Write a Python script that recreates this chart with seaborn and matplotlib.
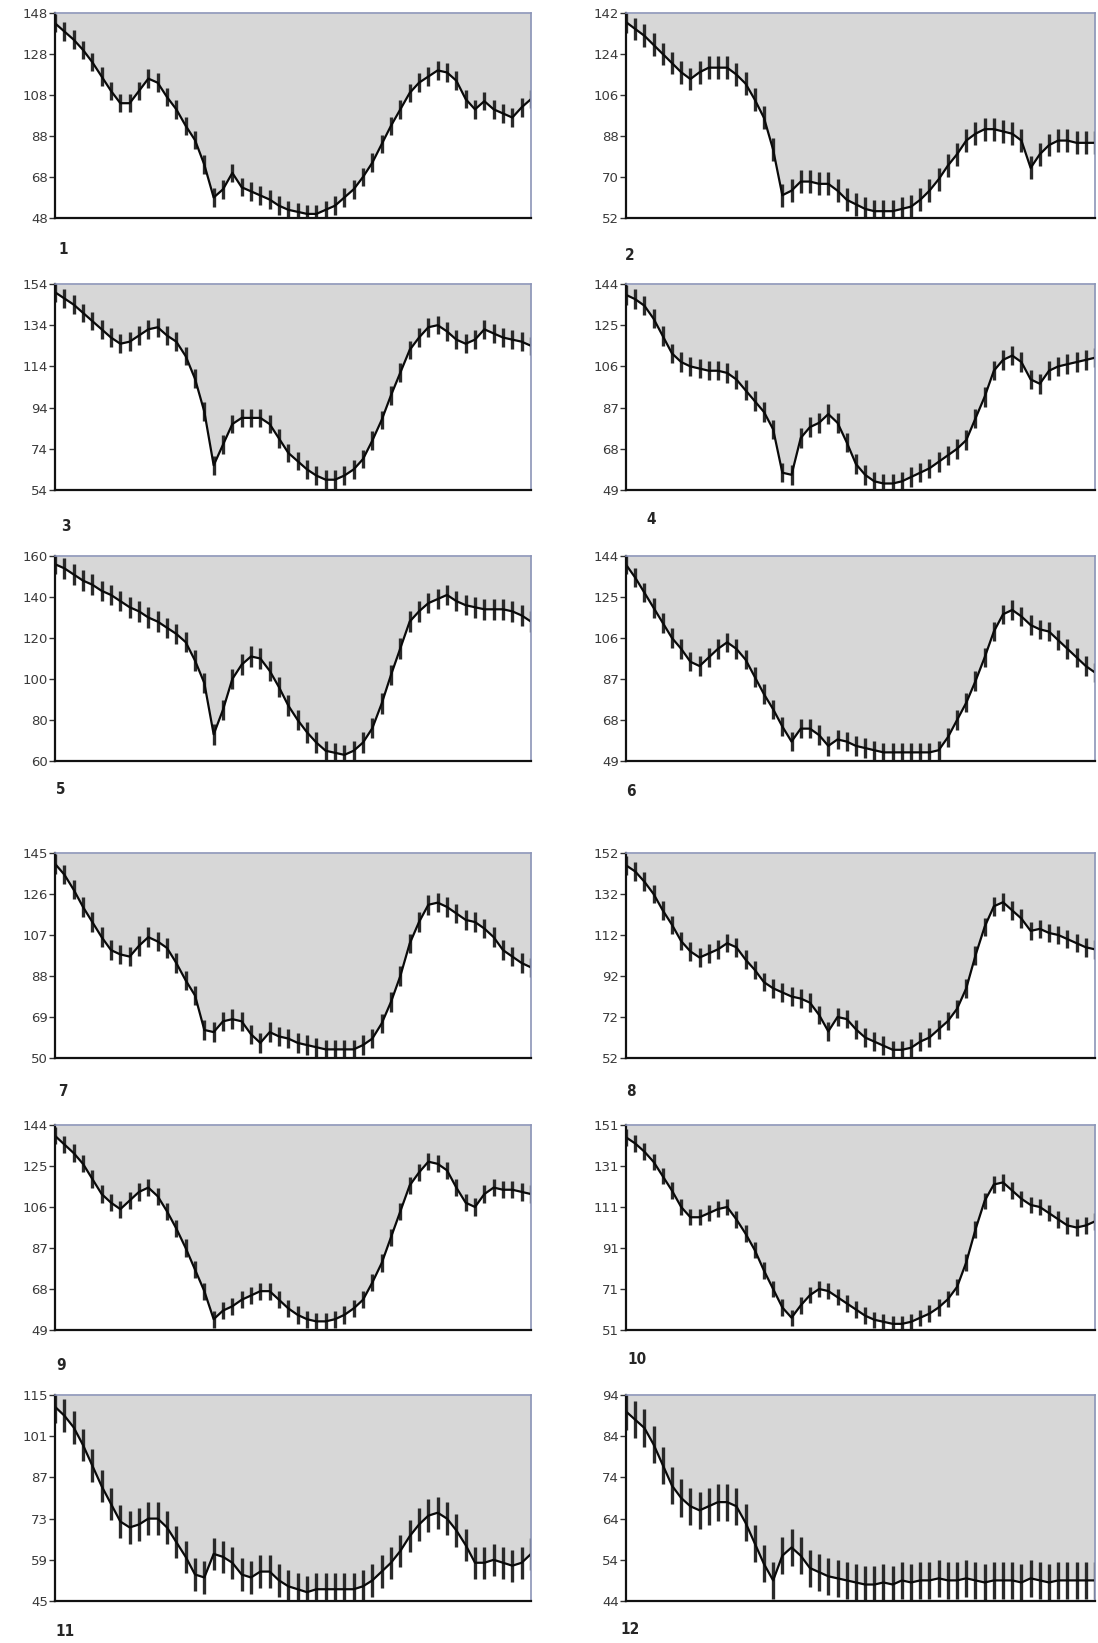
import matplotlib
matplotlib.use("Agg")
import numpy as np
import pandas as pd
import matplotlib.pyplot as plt
import seaborn as sns

# trend values (52 samples per panel, left to right)
panel_1 = [143, 139, 135, 130, 124, 117, 110, 104, 104, 110, 116, 114, 107, 101, 93, 86, 74, 58, 62, 70,
           63, 61, 59, 57, 54, 52, 51, 50, 50, 52, 54, 58, 62, 68, 75, 84, 93, 101, 109, 114,
           117, 120, 119, 115, 106, 101, 105, 101, 99, 97, 102, 106]
panel_2 = [138, 135, 132, 128, 124, 120, 116, 113, 116, 118, 118, 118, 115, 111, 104, 96, 82, 62, 64, 68,
           68, 67, 67, 64, 60, 58, 56, 55, 55, 55, 56, 57, 60, 64, 69, 75, 80, 86, 89, 91,
           91, 90, 89, 86, 74, 80, 84, 86, 86, 85, 85, 85]
panel_3 = [150, 147, 144, 140, 136, 132, 128, 125, 126, 129, 132, 133, 129, 126, 119, 108, 92, 66, 76, 86,
           89, 89, 89, 86, 79, 72, 68, 64, 61, 59, 59, 61, 64, 69, 78, 88, 100, 111, 122, 128,
           133, 134, 131, 127, 125, 127, 132, 130, 128, 127, 126, 124]
panel_4 = [139, 137, 134, 128, 120, 112, 108, 106, 105, 104, 104, 103, 100, 95, 90, 85, 77, 57, 56, 73,
           78, 80, 84, 80, 71, 61, 56, 53, 52, 52, 53, 55, 57, 59, 62, 65, 68, 72, 82, 92,
           104, 109, 111, 108, 100, 98, 104, 106, 107, 108, 109, 110]
panel_5 = [156, 154, 151, 148, 146, 143, 141, 138, 135, 133, 130, 128, 125, 122, 118, 109, 98, 73, 85, 100,
           107, 111, 110, 104, 96, 87, 80, 74, 69, 65, 64, 63, 65, 69, 76, 88, 102, 115, 128, 133,
           137, 139, 141, 138, 136, 135, 134, 134, 134, 133, 131, 128]
panel_6 = [140, 134, 127, 120, 113, 106, 101, 95, 93, 97, 101, 104, 101, 96, 88, 80, 73, 65, 58, 64,
           64, 61, 56, 59, 58, 56, 55, 54, 53, 53, 53, 53, 53, 53, 54, 60, 68, 76, 86, 97,
           109, 117, 119, 116, 112, 110, 109, 105, 101, 97, 93, 90]
panel_7 = [140, 135, 128, 120, 113, 106, 100, 98, 97, 102, 106, 104, 101, 94, 86, 79, 63, 62, 67, 68,
           67, 61, 57, 62, 60, 59, 57, 56, 55, 54, 54, 54, 54, 56, 59, 66, 76, 88, 103, 113,
           121, 122, 120, 117, 114, 113, 110, 106, 100, 97, 94, 92]
panel_8 = [146, 143, 138, 132, 124, 117, 109, 104, 101, 103, 105, 108, 106, 100, 95, 89, 86, 84, 82, 81,
           79, 73, 65, 72, 71, 66, 62, 60, 58, 56, 56, 57, 60, 62, 66, 70, 76, 86, 102, 116,
           126, 128, 124, 120, 114, 115, 113, 112, 110, 108, 106, 105]
panel_9 = [139, 135, 131, 126, 119, 112, 108, 105, 109, 113, 115, 111, 104, 96, 87, 77, 67, 54, 58, 60,
           63, 65, 67, 67, 63, 59, 56, 54, 53, 53, 54, 56, 59, 63, 71, 80, 92, 104, 116, 122,
           127, 126, 123, 115, 108, 106, 112, 115, 114, 114, 113, 112]
panel_10 = [145, 142, 138, 133, 126, 119, 111, 106, 106, 108, 110, 111, 105, 98, 90, 80, 71, 62, 57, 63,
            68, 71, 70, 67, 64, 61, 58, 56, 55, 54, 54, 55, 57, 59, 62, 66, 72, 84, 100, 114,
            122, 123, 119, 115, 112, 111, 108, 105, 102, 101, 102, 104]
panel_11 = [111, 108, 104, 98, 91, 84, 78, 72, 70, 71, 73, 73, 70, 65, 60, 54, 53, 61, 60, 58,
            54, 53, 55, 55, 52, 50, 49, 48, 49, 49, 49, 49, 49, 50, 52, 55, 58, 62, 67, 71,
            74, 75, 73, 69, 64, 58, 58, 59, 58, 57, 58, 61]
panel_12 = [90, 88, 86, 82, 77, 72, 69, 67, 66, 67, 68, 68, 67, 63, 58, 53, 49, 55, 57, 55,
            52, 51, 50, 49.5, 49, 48.5, 48, 48, 48.5, 48, 49, 48.5, 49, 49, 49.5, 49, 49, 49.5, 49, 48.5,
            49, 49, 49, 48.5, 49.5, 49, 48.5, 49, 49, 49, 49, 49]

series = [panel_1, panel_2, panel_3, panel_4, panel_5, panel_6,
          panel_7, panel_8, panel_9, panel_10, panel_11, panel_12]

# y tick labels of each panel (first = axis minimum, last = axis maximum)
ticks = [
    [48, 68, 88, 108, 128, 148],
    [52, 70, 88, 106, 124, 142],
    [54, 74, 94, 114, 134, 154],
    [49, 68, 87, 106, 125, 144],
    [60, 80, 100, 120, 140, 160],
    [49, 68, 87, 106, 125, 144],
    [50, 69, 88, 107, 126, 145],
    [52, 72, 92, 112, 132, 152],
    [49, 68, 87, 106, 125, 144],
    [51, 71, 91, 111, 131, 151],
    [45, 59, 73, 87, 101, 115],
    [44, 54, 64, 74, 84, 94],
]

# half height of the short-period swings around the trend
spread = [4.5, 5, 4.5, 4.5, 5, 4.5, 4.5, 4.5, 4, 4, 5.5, 4.5]

panel_names = [str(i) for i in range(1, 13)]

W, H = 1098, 1643
fig = plt.figure(figsize=(W / 100, H / 100), dpi=100)
sns.set_style("white")

col_x = [(55, 531), (626, 1095)]
row_y = [(13, 218), (284, 490), (556, 761), (853, 1058), (1125, 1330), (1395, 1601)]
label_pos = [(63, 250), (630, 255), (66, 527), (651, 520), (61, 790), (631, 792),
             (63, 1092), (631, 1092), (61, 1365), (637, 1360), (65, 1632), (630, 1630)]

for k, vals in enumerate(series):
    r, c = divmod(k, 2)
    x0, x1 = col_x[c]
    y0, y1 = row_y[r]
    ax = fig.add_axes([x0 / W, 1 - y1 / H, (x1 - x0) / W, (y1 - y0) / H])
    ax.set_facecolor("white")

    df = pd.DataFrame({"t": np.arange(len(vals)), "v": vals})
    lo, hi = ticks[k][0], ticks[k][-1]
    s = spread[k]

    # grey area above the curve
    ax.fill_between(df["t"], df["v"], hi, color="#d7d7d7", lw=0)
    ax.vlines(df["t"], df["v"] - s, df["v"] + s, color="#2a2a2a", lw=2.4)
    sns.lineplot(data=df, x="t", y="v", ax=ax, color="#0a0a0a", lw=1.6)

    ax.set_xlim(0, len(vals) - 1)
    ax.set_ylim(lo, hi)
    ax.set_xticks([])
    ax.set_yticks(ticks[k])
    ax.set_yticklabels([str(t) for t in ticks[k]])
    ax.tick_params(axis="y", direction="out", length=4, width=1, pad=1,
                   labelsize=9.5, labelcolor="#3a3a3a", color="#333333", left=True)
    ax.set_xlabel("")
    ax.set_ylabel("")

    for side in ["left", "bottom"]:
        ax.spines[side].set_color("#111111")
        ax.spines[side].set_linewidth(1.6)
    for side in ["top", "right"]:
        ax.spines[side].set_visible(True)
        ax.spines[side].set_color("#8c95b8")
        ax.spines[side].set_linewidth(1.2)

    lx, ly = label_pos[k]
    fig.text(lx / W, 1 - ly / H, panel_names[k], ha="center", va="center",
             fontsize=11, fontweight="bold", fontstretch="condensed",
             family=["Liberation Sans Narrow", "DejaVu Sans"])

fig.savefig("out.png", dpi=100)
